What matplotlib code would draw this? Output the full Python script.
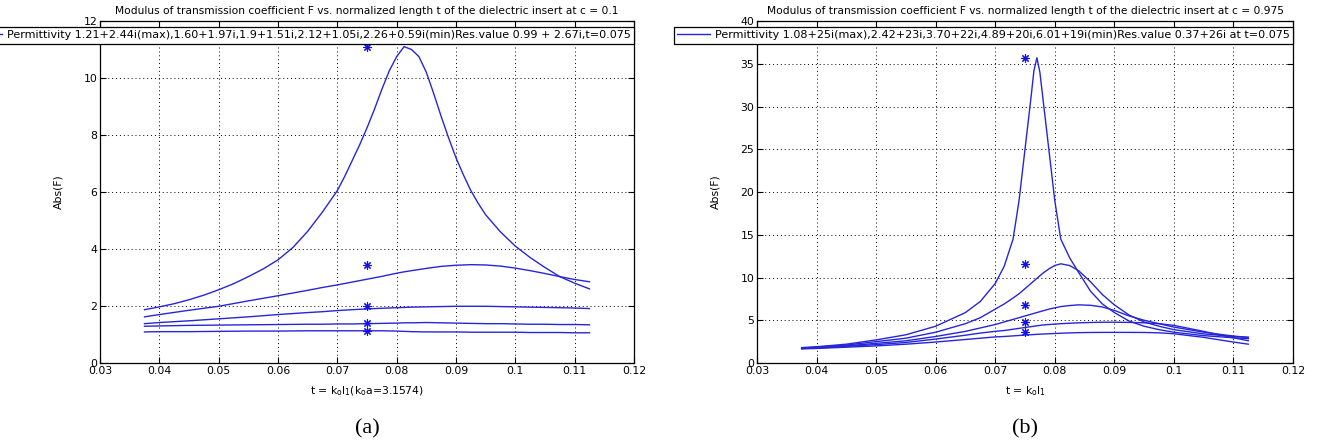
import matplotlib
matplotlib.use("Agg")
import matplotlib.pyplot as plt

plt.rcParams['font.family'] = ['DejaVu Sans']

# ---- panel (a): c = 0.1 ----
# main (max-permittivity) curve, sampled more finely around its resonance
t_a_max = [0.0375, 0.04, 0.0425, 0.045, 0.0475, 0.05, 0.0525, 0.055, 0.0575, 0.06,
           0.0625, 0.065, 0.0675, 0.07, 0.07125, 0.0725, 0.07375, 0.075, 0.07625, 0.0775,
           0.07875, 0.08, 0.08125, 0.0825, 0.08375, 0.085, 0.08625, 0.0875, 0.08875, 0.09,
           0.09125, 0.0925, 0.09375, 0.095, 0.0975, 0.1, 0.1025, 0.105, 0.1075, 0.11,
           0.1125]
a_eps1 = [1.87, 1.97, 2.08, 2.22, 2.38, 2.57, 2.78, 3.03, 3.3, 3.62,
          4.05, 4.62, 5.3, 6.05, 6.55, 7.1, 7.65, 8.25, 8.9, 9.6,
          10.25, 10.75, 11.1, 11.0, 10.75, 10.2, 9.45, 8.65, 7.9, 7.2,
          6.6, 6.05, 5.6, 5.2, 4.6, 4.1, 3.7, 3.35, 3.03, 2.8,
          2.6]
t_a = [0.0375, 0.04, 0.045, 0.05, 0.055, 0.06, 0.065, 0.0675, 0.07, 0.0725,
       0.075, 0.0775, 0.08, 0.0813, 0.0825, 0.085, 0.0875, 0.09, 0.0925, 0.095,
       0.0975, 0.1, 0.1025, 0.105, 0.1075, 0.11, 0.1125]
a_eps2 = [1.62, 1.7, 1.85, 1.99, 2.18, 2.36, 2.55, 2.65, 2.74, 2.84,
          2.94, 3.04, 3.15, 3.2, 3.24, 3.32, 3.39, 3.43, 3.45, 3.44,
          3.4, 3.33, 3.24, 3.14, 3.03, 2.93, 2.85]
a_eps3 = [1.38, 1.42, 1.48, 1.55, 1.62, 1.70, 1.77, 1.8, 1.84, 1.87,
          1.9, 1.92, 1.94, 1.95, 1.96, 1.97, 1.98, 1.99, 1.99, 1.99,
          1.98, 1.97, 1.96, 1.95, 1.94, 1.93, 1.91]
a_eps4 = [1.29, 1.3, 1.32, 1.33, 1.34, 1.35, 1.36, 1.36, 1.37, 1.37,
          1.38, 1.39, 1.4, 1.41, 1.41, 1.42, 1.41, 1.4, 1.39, 1.38,
          1.38, 1.37, 1.36, 1.36, 1.35, 1.35, 1.34]
a_eps5 = [1.09, 1.1, 1.1, 1.11, 1.12, 1.12, 1.13, 1.13, 1.13, 1.13,
          1.13, 1.13, 1.12, 1.11, 1.1, 1.09, 1.09, 1.09, 1.08, 1.08,
          1.08, 1.08, 1.07, 1.07, 1.07, 1.06, 1.06]
a_res_t = 0.075
a_res_vals = [11.1, 3.44, 1.99, 1.41, 1.12]

# ---- panel (b): c = 0.975 ----
t_b = [0.0375, 0.04, 0.045, 0.05, 0.055, 0.06, 0.065, 0.0675, 0.07, 0.0715,
       0.073, 0.074, 0.075, 0.076, 0.0765, 0.077, 0.0775, 0.078, 0.079, 0.08,
       0.081, 0.0825, 0.084, 0.086, 0.088, 0.09, 0.0925, 0.095, 0.0975, 0.1,
       0.105, 0.11, 0.1125]
b_eps1 = [1.8, 1.9, 2.2, 2.7, 3.3, 4.3, 5.9, 7.2, 9.3, 11.3,
          14.5, 19.0, 25.0, 31.0, 34.2, 35.7, 34.0, 31.0, 25.0, 19.0,
          14.5, 12.3, 10.6, 8.4, 6.9, 5.9, 4.9, 4.3, 3.9, 3.6,
          3.2, 2.95, 2.85]
b_eps2 = [1.75, 1.85, 2.1, 2.5, 2.9, 3.6, 4.6, 5.3, 6.3, 6.9,
          7.6, 8.1, 8.7, 9.3, 9.6, 9.9, 10.2, 10.5, 11.0, 11.4,
          11.6, 11.4, 10.8, 9.5, 8.0, 6.8, 5.6, 4.8, 4.3, 3.9,
          3.4, 3.1, 3.0]
b_eps3 = [1.7, 1.8, 2.0, 2.3, 2.6, 3.1, 3.7, 4.1, 4.5, 4.8,
          5.1, 5.3, 5.5, 5.7, 5.8, 5.9, 6.0, 6.1, 6.3, 6.45,
          6.6, 6.72, 6.8, 6.75, 6.55, 6.15, 5.5, 5.0, 4.6, 4.2,
          3.6, 3.15, 3.0]
b_eps4 = [1.7, 1.75, 1.95, 2.15, 2.4, 2.8, 3.25, 3.5, 3.7, 3.8,
          3.95, 4.05, 4.15, 4.25, 4.3, 4.35, 4.4, 4.45, 4.5, 4.55,
          4.6, 4.65, 4.7, 4.74, 4.77, 4.77, 4.75, 4.7, 4.6, 4.4,
          3.7, 2.95, 2.6]
b_eps5 = [1.65, 1.7, 1.85, 2.0, 2.2, 2.45, 2.75, 2.9, 3.05, 3.1,
          3.17, 3.22, 3.27, 3.31, 3.33, 3.35, 3.37, 3.39, 3.42, 3.45,
          3.48, 3.52, 3.55, 3.57, 3.58, 3.58, 3.58, 3.57, 3.53, 3.42,
          3.0, 2.45, 2.2]
b_res_t = 0.075
b_res_vals = [35.7, 11.6, 6.8, 4.77, 3.58]

x_ticks = [0.03, 0.04, 0.05, 0.06, 0.07, 0.08, 0.09, 0.1, 0.11, 0.12]
x_ticklabels = ['0.03', '0.04', '0.05', '0.06', '0.07', '0.08', '0.09', '0.1', '0.11', '0.12']
a_yticks = [0, 2, 4, 6, 8, 10, 12]
b_yticks = [0, 5, 10, 15, 20, 25, 30, 35, 40]

a_title = 'Modulus of transmission coefficient F vs. normalized length t of the dielectric insert at c = 0.1'
b_title = 'Modulus of transmission coefficient F vs. normalized length t of the dielectric insert at c = 0.975'
a_legend = ('Permittivity 1.21+2.44i(max),1.60+1.97i,1.9+1.51i,2.12+1.05i,'
            '2.26+0.59i(min)Res.value 0.99 + 2.67i,t=0.075')
b_legend = ('Permittivity 1.08+25i(max),2.42+23i,3.70+22i,4.89+20i,'
            '6.01+19i(min)Res.value 0.37+26i at t=0.075')
a_xlabel = r't = k$_{\rm o}$l$_{\rm 1}$(k$_{\rm o}$a=3.1574)'
b_xlabel = r't = k$_{\rm o}$l$_{\rm 1}$'

LINE = '#2626d8'
STAR = '#1010ee'

fig = plt.figure(figsize=(13.18, 4.40), dpi=100)
ax_a = fig.add_axes([100 / 1318, 77 / 440, 534 / 1318, 342 / 440])
ax_b = fig.add_axes([757 / 1318, 77 / 440, 536 / 1318, 342 / 440])


def draw_panel(ax, series, res_t, res_vals, ymax, yticks, title, legend, xlabel, tag):
    for i, (t, c) in enumerate(series):
        ax.plot(t, c, color=LINE, lw=1.0, label=legend if i == 0 else None)
    ax.plot([res_t] * len(res_vals), res_vals, linestyle='none', marker=(8, 2, 0),
            markersize=6, color=STAR, markeredgewidth=0.8)
    ax.set_xlim(0.03, 0.12)
    ax.set_ylim(0, ymax)
    ax.set_xticks(x_ticks)
    ax.set_xticklabels(x_ticklabels)
    ax.set_yticks(yticks)
    ax.set_yticklabels([str(v) for v in yticks])
    ax.tick_params(direction='in', top=True, right=True, length=4, width=0.8,
                   labelsize=7.8, pad=2)
    ax.grid(True, linestyle=(0, (1, 3)), color='black', linewidth=0.7)
    for s in ax.spines.values():
        s.set_linewidth(0.9)
    ax.set_title(title, fontsize=7.7, pad=5)
    ax.set_ylabel('Abs(F)', fontsize=7.8, labelpad=14)
    ax.set_xlabel(xlabel, fontsize=7.8, labelpad=6)
    leg = ax.legend(loc='upper right', bbox_to_anchor=(1.0, 1.0 - 6 / 342),
                    borderaxespad=0, fontsize=8.0, handlelength=3.0,
                    handletextpad=0.4, borderpad=0.3, fancybox=False,
                    framealpha=1, edgecolor='black')
    leg.get_frame().set_linewidth(0.9)
    ax.text(0.5, -0.165, tag, transform=ax.transAxes, ha='center', va='top',
            fontsize=16, family=['Liberation Serif', 'DejaVu Serif'])


draw_panel(ax_a, [(t_a_max, a_eps1), (t_a, a_eps2), (t_a, a_eps3), (t_a, a_eps4), (t_a, a_eps5)],
           a_res_t, a_res_vals, 12, a_yticks, a_title, a_legend, a_xlabel, '(a)')
draw_panel(ax_b, [(t_b, b_eps1), (t_b, b_eps2), (t_b, b_eps3), (t_b, b_eps4), (t_b, b_eps5)],
           b_res_t, b_res_vals, 40, b_yticks, b_title, b_legend, b_xlabel, '(b)')

fig.savefig('out.png', dpi=100)
